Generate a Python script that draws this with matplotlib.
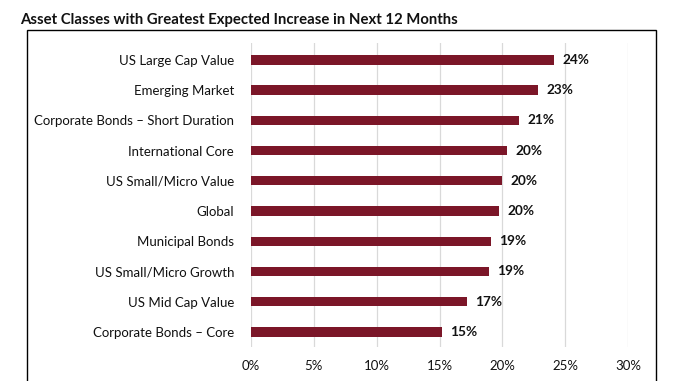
import matplotlib
matplotlib.use("Agg")
import matplotlib.pyplot as plt
from matplotlib.patches import Rectangle

categories = [
    "US Large Cap Value",
    "Emerging Market",
    "Corporate Bonds \u2013 Short Duration",
    "International Core",
    "US Small/Micro Value",
    "Global",
    "Municipal Bonds",
    "US Small/Micro Growth",
    "US Mid Cap Value",
    "Corporate Bonds \u2013 Core",
]
values = [24.1, 22.8, 21.3, 20.4, 20.0, 19.7, 19.1, 18.9, 17.2, 15.2]
labels = ["24%", "23%", "21%", "20%", "20%", "20%", "19%", "19%", "17%", "15%"]
xticks = [0, 5, 10, 15, 20, 25, 30]
xticklabels = ["0%", "5%", "10%", "15%", "20%", "25%", "30%"]

W, H = 687, 381
plt.rcParams["font.family"] = ["Lato", "DejaVu Sans"]
fig = plt.figure(figsize=(W / 100, H / 100), dpi=100)
ax = fig.add_axes([250.7 / W, 1 - 347 / H, (628.3 - 250.7) / W, (347 - 43) / H])

bar_color = "#7B1628"
y = list(range(len(categories)))
ax.barh(y, values, height=0.31, color=bar_color, zorder=3)
for yi, v, lab in zip(y, values, labels):
    ax.annotate(lab, (v, yi), xytext=(6, 0), textcoords="offset points",
                va="center", ha="left", fontsize=9.8, fontweight="bold", color="#111111")

ax.set_xlim(0, 30)
ax.set_ylim(9.5, -0.56)
ax.set_yticks(y)
ax.set_yticklabels(categories, fontsize=9.5, color="#111111")
ax.set_xticks(xticks)
ax.set_xticklabels(xticklabels, fontsize=9.5, color="#111111")
ax.tick_params(axis="both", length=0)
ax.tick_params(axis="y", pad=12)
ax.tick_params(axis="x", pad=9)
ax.grid(axis="x", color="#d9d9d9", linewidth=0.9, zorder=0)
for s in ax.spines.values():
    s.set_visible(False)

fig.patches.append(Rectangle((27 / W, -0.01), (656 - 27) / W, 1.01 - 30 / H,
                             transform=fig.transFigure, fill=False,
                             edgecolor="black", linewidth=1.0))
fig.text(20 / W, 1 - 20 / H, "Asset Classes with Greatest Expected Increase in Next 12 Months",
         fontsize=10.7, fontweight="bold", va="center", ha="left", color="#111111")

fig.savefig("out.png", dpi=100)
